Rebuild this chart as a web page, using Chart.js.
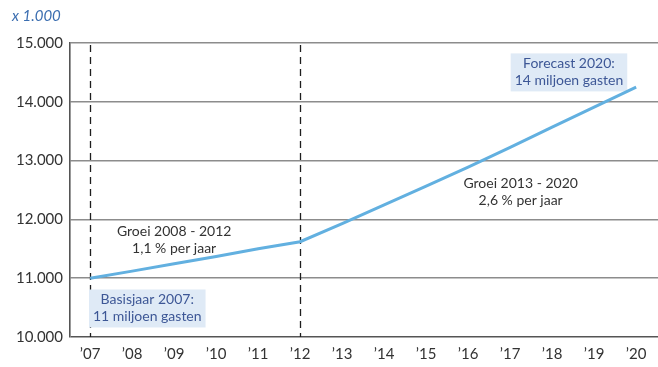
<!DOCTYPE html>
<html>
<head>
<meta charset="utf-8">
<script src="https://cdn.jsdelivr.net/npm/chart.js@4"></script>
<style>
  html, body { margin: 0; padding: 0; background: #fff; }
  #wrap { width: 658px; height: 367px; position: relative; }
</style>
</head>
<body>
<div id="wrap"><canvas id="chart"></canvas></div>
<script>
// --- data (x 1.000 gasten) ---
const years = [2007, 2008, 2009, 2010, 2011, 2012, 2013, 2014, 2015, 2016, 2017, 2018, 2019, 2020];
const guests = [11000, 11120, 11245, 11370, 11500, 11620, 11930, 12245, 12565, 12890, 13225, 13570, 13910, 14250];
const yTicks = [10000, 11000, 12000, 13000, 14000, 15000];
const markerYears = [2007, 2012];
const unitLabel = "x 1.000";

// notes placed in data coordinates (year, value)
const notes = [
  { year: 2009.0, value: 11650, lines: ["Groei 2008 - 2012", "1,1 % per jaar"], box: false },
  { year: 2017.25, value: 12460, lines: ["Groei 2013 - 2020", "2,6 % per jaar"], box: false },
  { year: 2018.4, value: 14500, lines: ["Forecast 2020:", "14 miljoen gasten"], box: true },
  { year: 2008.36, value: 10485, lines: ["Basisjaar 2007:", "11 miljoen gasten"], box: true },
];

const FONT = "Lato";

const overlay = {
  id: "overlay",
  beforeDatasetsDraw(chart) {
    const { ctx, chartArea: a, scales } = chart;
    ctx.save();
    // dashed marker lines
    ctx.strokeStyle = "#1e1e1e";
    ctx.lineWidth = 1.3;
    ctx.setLineDash([7, 5]);
    markerYears.forEach((y) => {
      const px = Math.round(scales.x.getPixelForValue(y)) + 0.5;
      ctx.beginPath();
      ctx.moveTo(px, a.top + 2);
      ctx.lineTo(px, a.bottom);
      ctx.stroke();
    });
    ctx.setLineDash([]);

    // notes (under the line)
    ctx.font = `14px ${FONT}`;
    ctx.textAlign = "center";
    ctx.textBaseline = "middle";
    notes.forEach((n) => {
      const cx = scales.x.getPixelForValue(n.year);
      const cy = scales.y.getPixelForValue(n.value);
      const lh = 17;
      if (n.box) {
        const w = Math.max(...n.lines.map((l) => ctx.measureText(l).width)) + 8;
        const h = lh * n.lines.length + 4;
        ctx.fillStyle = "#dfeaf6";
        ctx.fillRect(cx - w / 2, cy - h / 2, w, h);
        ctx.fillStyle = "#3d5796";
      } else {
        ctx.fillStyle = "#333333";
      }
      n.lines.forEach((l, i) => {
        ctx.fillText(l, cx, cy + (i - (n.lines.length - 1) / 2) * lh);
      });
    });

    // unit label
    ctx.font = `italic 15px ${FONT}`;
    ctx.textAlign = "left";
    ctx.fillStyle = "#3a6db0";
    ctx.fillText(unitLabel, 12, 16);
    ctx.restore();
  },
};

new Chart(document.getElementById("chart"), {
  type: "line",
  data: {
    datasets: [
      {
        data: years.map((y, i) => ({ x: y, y: guests[i] })),
        borderColor: "#62b0e0",
        borderWidth: 3,
        pointRadius: 0,
        tension: 0,
        fill: false,
      },
    ],
  },
  options: {
    responsive: true,
    maintainAspectRatio: false,
    animation: false,
    layout: { padding: { top: 43, right: 0, left: 0, bottom: 0 } },
    plugins: { legend: { display: false }, tooltip: { enabled: false } },
    scales: {
      x: {
        type: "linear",
        min: 2006.52,
        max: 2020.52,
        afterBuildTicks: (s) => { s.ticks = years.map((v) => ({ value: v })); },
        afterFit: (s) => { s.height = 30; },
        grid: { display: false, drawTicks: false },
        border: { display: false },
        ticks: {
          color: "#333333",
          font: { family: FONT, size: 15 },
          padding: 8,
          autoSkip: false,
          maxRotation: 0,
          callback: (v) => "\u2019" + String(v).slice(2),
        },
      },
      y: {
        min: 10000,
        max: 15000,
        afterBuildTicks: (s) => { s.ticks = yTicks.map((v) => ({ value: v })); },
        afterFit: (s) => { s.width = 70; },
        grid: {
          color: (c) => (c.tick && c.tick.value === 10000 ? "#555555" : "#8c8c8c"),
          lineWidth: 1.6,
          drawTicks: false,
        },
        border: { display: true, color: "#555555", width: 1.6 },
        ticks: {
          color: "#333333",
          font: { family: FONT, size: 15 },
          padding: 7,
          callback: (v) => (v / 1000).toFixed(3),
        },
      },
    },
  },
  plugins: [overlay],
});
</script>
</body>
</html>
